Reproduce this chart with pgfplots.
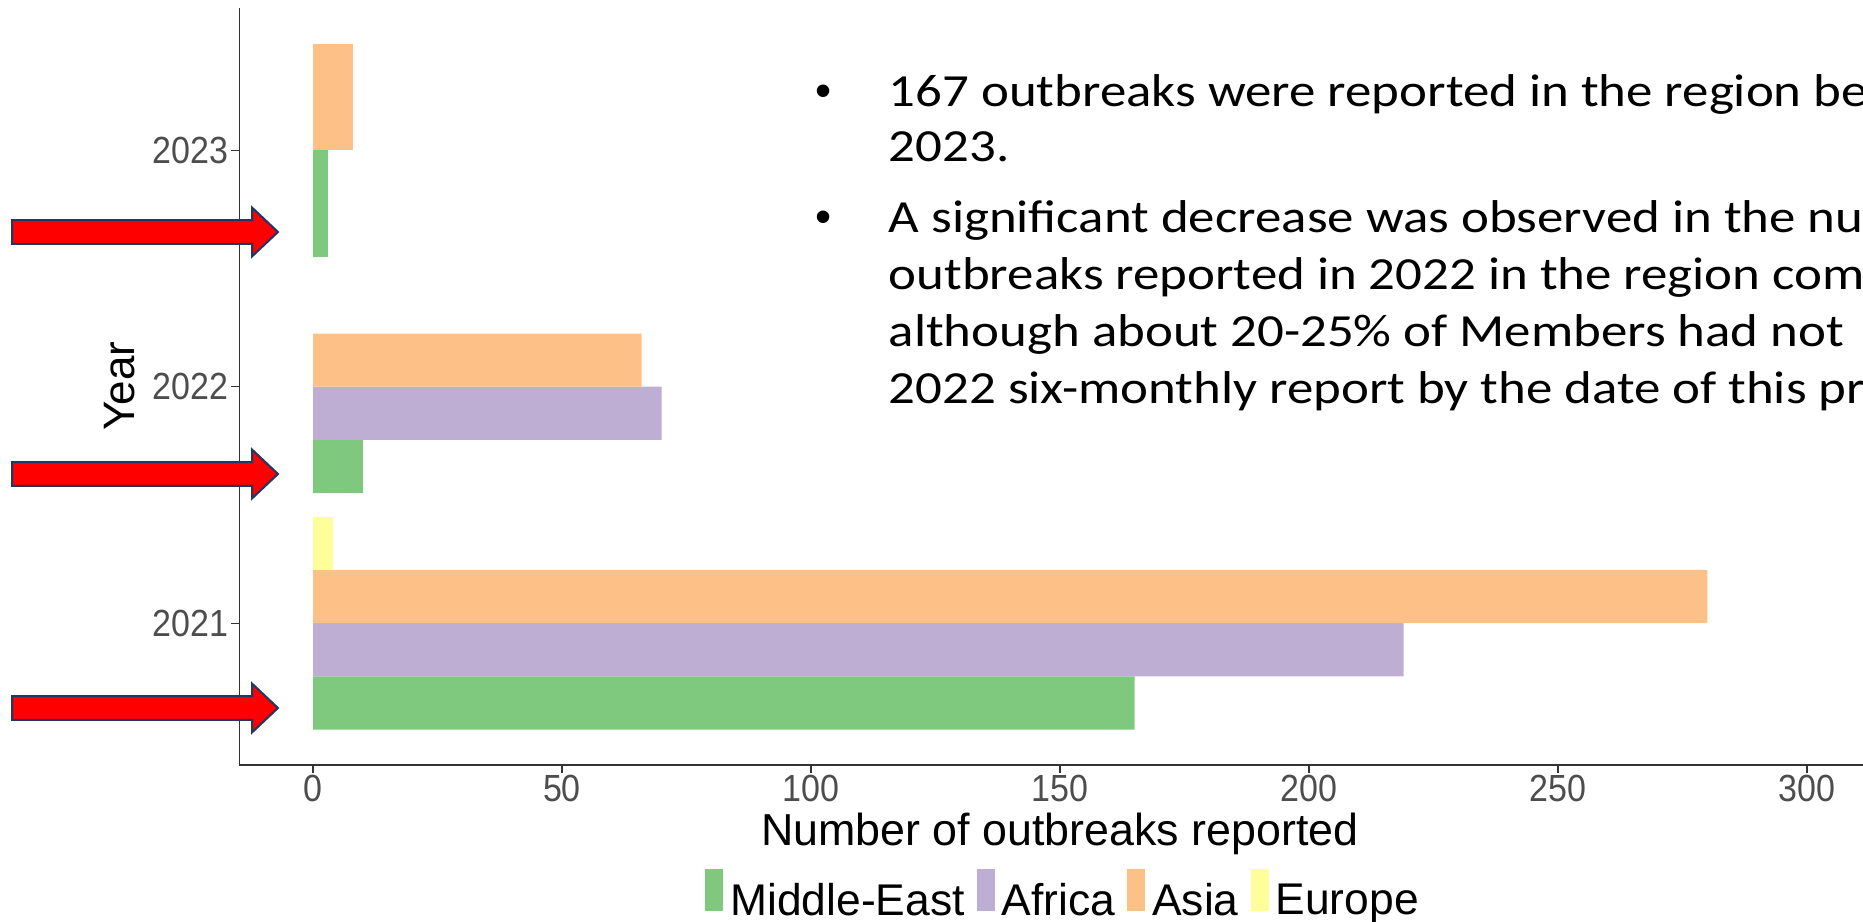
\documentclass[border=0pt]{standalone}
\usepackage{pgfplots}
\pgfplotsset{compat=1.18}
\usepackage{fontspec}
\setmainfont{Liberation Sans}
\newfontfamily\tickfont[FakeStretch=0.9]{Liberation Sans}
\newfontfamily\slidefont[FakeStretch=1.15]{Carlito}
\definecolor{cME}{HTML}{7FC97F}
\definecolor{cAF}{HTML}{BEAED4}
\definecolor{cAS}{HTML}{FDC086}
\definecolor{cEU}{HTML}{FFFF99}
\definecolor{axisgray}{HTML}{333333}
\definecolor{tickgray}{HTML}{4D4D4D}
\definecolor{arrowedge}{HTML}{1F3864}
\begin{document}
\begin{tikzpicture}
\useasboundingbox (0,0) rectangle (931.5pt,460.5pt);
\begin{axis}[
  at={(119.65pt,78pt)}, anchor=south west,
  scale only axis, width=811.7pt, height=378.25pt,
  xmin=-14.8, xmax=311.2, ymin=2020.4, ymax=2023.6,
  xbar, bar width=0.225,
  axis x line*=bottom, axis y line*=left,
  axis line style={draw=axisgray, line width=0.6pt},
  xtick={0,50,100,150,200,250,300}, xticklabels={0,50,100,150,200,250,300},
  ytick={2021,2022,2023}, yticklabels={2021,2022,2023},
  tick style={draw=axisgray, line width=0.6pt},
  tick align=outside, major tick length=4pt,
  xticklabel style={font=\tickfont\fontsize{18.9}{22}\selectfont, text=tickgray, anchor=north, inner sep=0pt, yshift=-0.75pt},
  yticklabel style={font=\tickfont\fontsize{18.9}{22}\selectfont, text=tickgray, anchor=east, inner sep=0pt, xshift=-1.3pt},
  xlabel={Number of outbreaks reported},
  ylabel={Year},
  every axis x label/.style={at={(axis description cs:0.5055,0)}, anchor=base, yshift=-40pt, font=\fontsize{22.4}{26}\selectfont},
  every axis y label/.style={at={(axis description cs:-0.0738,0.501)}, rotate=90, anchor=center, font=\fontsize{22}{26}\selectfont},
  legend columns=4,
  legend image code/.code={\fill[#1, draw=none] (0pt,-5pt) rectangle (9pt,16pt);},
  legend style={at={(axis description cs:0.5068,-0.170)}, anchor=center, draw=none, fill=none,
    font=\fontsize{22.2}{26}\selectfont, nodes={inner sep=0pt},
    /tikz/every odd column/.append style={column sep=3.5pt},
    /tikz/every even column/.append style={column sep=6pt}},
]
% 2021 and 2022: four slots per year
\addplot[fill=cME, draw=none, bar shift=-0.3375] coordinates {(165,2021) (10,2022)};
\addlegendentry{Middle-East}
\addplot[fill=cAF, draw=none, bar shift=-0.1125] coordinates {(219,2021) (70,2022)};
\addlegendentry{Africa}
\addplot[fill=cAS, draw=none, bar shift=0.1125] coordinates {(280,2021) (66,2022)};
\addlegendentry{Asia}
\addplot[fill=cEU, draw=none, bar shift=0.3375] coordinates {(4,2021)};
\addlegendentry{Europe}
% 2023: two slots
\addplot[fill=cME, draw=none, bar width=0.45, bar shift=-0.225, forget plot] coordinates {(3,2023)};
\addplot[fill=cAS, draw=none, bar width=0.45, bar shift=0.225, forget plot] coordinates {(8,2023)};
\end{axis}
% red arrows (annotations)
\foreach \yc in {344.5,223.5,106.5}{
  \filldraw[fill=red, draw=arrowedge, line width=1pt, line join=miter]
    (6pt,\yc pt-5.9pt) -- (126pt,\yc pt-5.9pt) -- (126pt,\yc pt-12.25pt) -- (139pt,\yc pt)
    -- (126pt,\yc pt+12.25pt) -- (126pt,\yc pt+5.9pt) -- (6pt,\yc pt+5.9pt) -- cycle;
}
% slide text
\begin{scope}[every node/.style={anchor=base west, inner sep=0pt, font=\slidefont\fontsize{23}{27}\selectfont}]
\node at (444.2pt,407.15pt) {167 outbreaks were reported in the region between};
\node at (444.2pt,379.65pt) {2023.};
\node at (444.2pt,344.15pt) {A significant decrease was observed in the number of};
\node at (444.2pt,315.85pt) {outbreaks reported in 2022 in the region compared};
\node at (444.2pt,287.15pt) {although about 20-25\% of Members had not};
\node at (444.2pt,258.85pt) {2022 six-monthly report by the date of this presentation};
\end{scope}
\node[anchor=base, inner sep=0pt, font=\fontsize{23}{27}\selectfont] at (412pt,407.15pt) {•};
\node[anchor=base, inner sep=0pt, font=\fontsize{23}{27}\selectfont] at (412pt,344.15pt) {•};
\end{tikzpicture}
\end{document}
